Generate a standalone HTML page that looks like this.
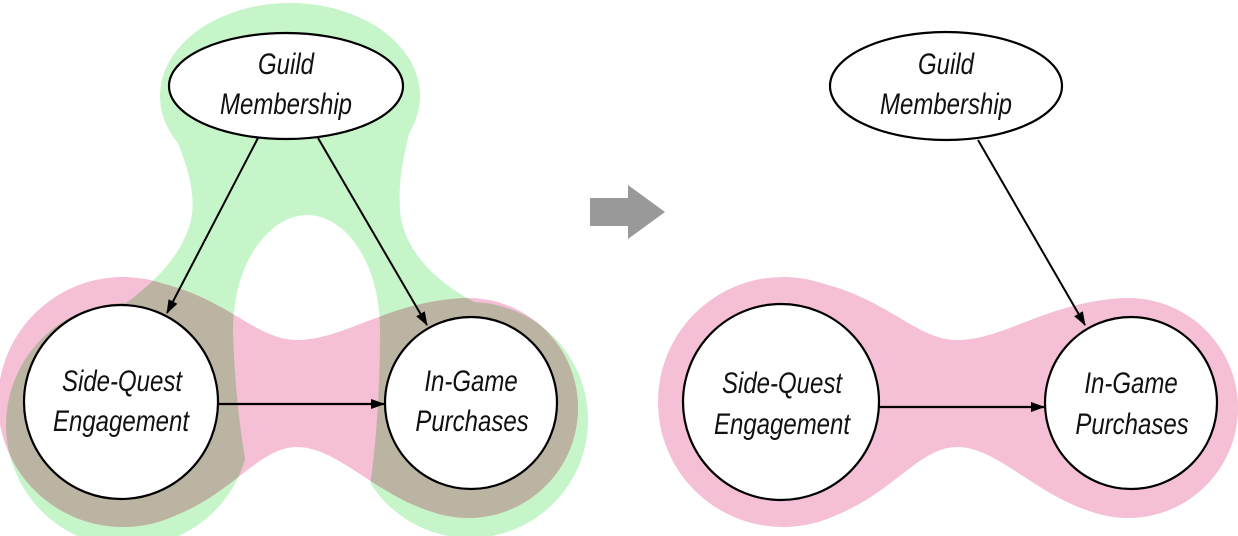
<!DOCTYPE html>
<html><head><meta charset="utf-8"><style>
html,body{margin:0;padding:0;background:#fff;}
svg{display:block;}
text{font-family:"Liberation Sans",sans-serif;font-style:italic;font-size:30px;fill:#111;text-anchor:middle;}
</style></head><body>
<svg width="1238" height="536" viewBox="0 0 1238 536" xmlns="http://www.w3.org/2000/svg">
<defs>
<marker id="ah" markerWidth="14" markerHeight="10" refX="13" refY="5" orient="auto" markerUnits="userSpaceOnUse">
<path d="M0,0 L14,5 L0,10 Z" fill="#000"/>
</marker>
<mask id="hole" maskUnits="userSpaceOnUse" x="0" y="0" width="1238" height="536">
<rect x="0" y="0" width="1238" height="536" fill="#fff"/>
<path d="M233 330 C233 262 270 215 307 215 C345 215 380 262 380 330 C380 420 372 480 362 536 L262 536 C250 490 236 430 233 330 Z" fill="#000"/>
</mask>
<clipPath id="pinkClip">
<circle cx="123" cy="402" r="125"/>
<circle cx="468" cy="408" r="110"/>
<path d="M123 277 C220 285 250 340 297 340 C345 340 390 300 468 298 L468 518 C390 515 345 447 297 447 C250 447 220 520 123 527 Z"/>
</clipPath>
</defs>

<g fill="#c5f5c9" mask="url(#hole)">
<ellipse cx="290" cy="96" rx="130" ry="93"/>
<path d="M165 110 L415 110 C405 150 398 175 400 210 C402 245 430 280 480 305 L470 430 L125 430 L100 320 C150 290 185 255 192 215 C196 180 180 150 165 110 Z"/>
<circle cx="128" cy="425" r="122"/>
<circle cx="470" cy="420" r="118"/>
</g>
<g fill="#f5bfd5">
<circle cx="123" cy="402" r="125"/>
<circle cx="468" cy="408" r="110"/>
<path d="M123 277 C220 285 250 340 297 340 C345 340 390 300 468 298 L468 518 C390 515 345 447 297 447 C250 447 220 520 123 527 Z"/>
</g>
<g clip-path="url(#pinkClip)">
<g fill="#bcb4a2" mask="url(#hole)">
<ellipse cx="290" cy="96" rx="130" ry="93"/>
<path d="M165 110 L415 110 C405 150 398 175 400 210 C402 245 430 280 480 305 L470 430 L125 430 L100 320 C150 290 185 255 192 215 C196 180 180 150 165 110 Z"/>
<circle cx="128" cy="425" r="122"/>
<circle cx="470" cy="420" r="118"/>
</g>
</g>

<ellipse cx="286" cy="86" rx="117" ry="53" fill="#fff" stroke="#000" stroke-width="2.2"/>
<circle cx="121" cy="402" r="97" fill="#fff" stroke="#000" stroke-width="2.2"/>
<circle cx="471" cy="403" r="86" fill="#fff" stroke="#000" stroke-width="2.2"/>

<line x1="258" y1="138" x2="167" y2="313" stroke="#000" stroke-width="2" marker-end="url(#ah)"/>
<line x1="318" y1="138" x2="427" y2="325" stroke="#000" stroke-width="2" marker-end="url(#ah)"/>
<line x1="219" y1="404" x2="384" y2="404" stroke="#000" stroke-width="2.2" marker-end="url(#ah)"/>

<text transform="translate(286,74) scale(0.8,1)">Guild</text>
<text transform="translate(286,114) scale(0.8,1)">Membership</text>
<text transform="translate(122,391) scale(0.8,1)">Side-Quest</text>
<text transform="translate(121,431) scale(0.8,1)">Engagement</text>
<text transform="translate(471,391) scale(0.8,1)">In-Game</text>
<text transform="translate(472,431) scale(0.8,1)">Purchases</text>

<polygon points="590,198 628,198 628,185 665,212 628,239 628,226 590,226" fill="#999"/>

<g fill="#f5bfd5" transform="translate(660,0)">
<circle cx="123" cy="402" r="125"/>
<circle cx="468" cy="408" r="110"/>
<path d="M123 277 C220 285 250 340 297 340 C345 340 390 300 468 298 L468 518 C390 515 345 447 297 447 C250 447 220 520 123 527 Z"/>
</g>
<ellipse cx="946" cy="86" rx="116" ry="54" fill="#fff" stroke="#000" stroke-width="2.2"/>
<circle cx="781" cy="402" r="98" fill="#fff" stroke="#000" stroke-width="2.2"/>
<circle cx="1131" cy="403" r="86" fill="#fff" stroke="#000" stroke-width="2.2"/>

<line x1="978" y1="140" x2="1085" y2="325" stroke="#000" stroke-width="2" marker-end="url(#ah)"/>
<line x1="879" y1="407" x2="1044" y2="407" stroke="#000" stroke-width="2.2" marker-end="url(#ah)"/>

<text transform="translate(946,74) scale(0.8,1)">Guild</text>
<text transform="translate(946,114) scale(0.8,1)">Membership</text>
<text transform="translate(782,393) scale(0.8,1)">Side-Quest</text>
<text transform="translate(782,434) scale(0.8,1)">Engagement</text>
<text transform="translate(1131,393) scale(0.8,1)">In-Game</text>
<text transform="translate(1132,434) scale(0.8,1)">Purchases</text>
</svg>
</body></html>
